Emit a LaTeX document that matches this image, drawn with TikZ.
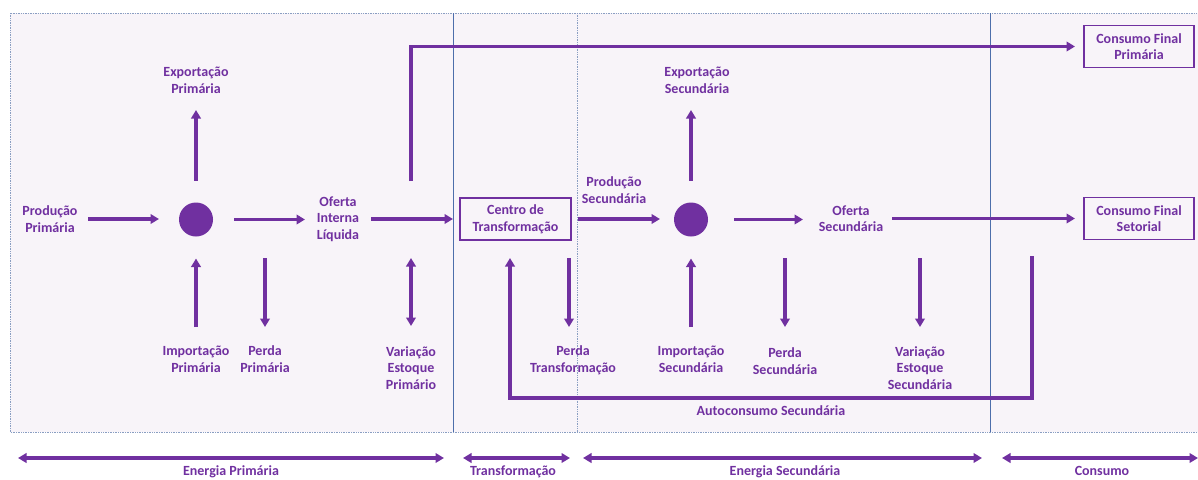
\documentclass[tikz,border=0pt]{standalone}
\usepackage{fontspec}
\setmainfont{Carlito}
\usetikzlibrary{arrows.meta}
\definecolor{pur}{HTML}{7030A0}
\definecolor{bgfill}{HTML}{F8F4F9}
\definecolor{dotline}{HTML}{8A9EC2}
\definecolor{sepblue}{HTML}{4D6EAB}
\tikzset{
  lbl/.style={text=pur, font=\fontsize{14}{16.6}\selectfont\bfseries, align=center,
              inner sep=0pt, outer sep=0pt},
  two/.style={lbl, minimum height=34pt},
  three/.style={lbl, minimum height=52pt},
  hub/.style={circle, fill=pur, minimum size=34pt, inner sep=0pt, outer sep=0pt},
  stagebox/.style={lbl, draw=pur, line width=1.4pt, fill=bgfill, minimum height=42pt},
  arr/.style={draw=pur, line width=3.1pt, -{Triangle[length=8.5pt,width=9.5pt]}},
  dblarr/.style={draw=pur, line width=3.1pt, {Triangle[length=8.5pt,width=9.5pt]}-{Triangle[length=8.5pt,width=9.5pt]}},
  frame/.style={draw=dotline, line width=0.7pt, densely dotted},
  sepline/.style={draw=sepblue, line width=0.8pt}
}
\begin{document}
\begin{tikzpicture}[x=1pt,y=-1pt]
\useasboundingbox (0,0) rectangle (1198,479);

% shaded working area with its dotted frame
\fill[bgfill] (10,13) rectangle (1205,432);
\draw[frame] (1205,13) -- (10,13) -- (10,432) -- (1205,432);
\draw[sepline] (453,13) -- (453,432);
\draw[frame] (577,13) -- (577,432);
\draw[sepline] (990,13) -- (990,432);

% primary energy chain
\node[two, text width=66pt] (prodP) at (50,219) {Produção\\Primária};
\node[hub] (c1) at (196,219.5) {};
\node[two, text width=78pt] (expP) at (196,80) {Exportação\\Primária};
\node[two, text width=78pt] (impP) at (196,359) {Importação\\Primária};
\node[two, text width=62pt] (perP) at (265,359) {Perda\\Primária};
\node[three, text width=56pt] (ofP) at (338,219) {Oferta\\Interna\\Líquida};
\node[three, text width=66pt] (varP) at (411,368) {Variação\\Estoque\\Primário};

% transformation
\node[stagebox, minimum width=111pt] (centro) at (515.5,219) {Centro de\\Transformação};
\node[two, text width=94pt] (perT) at (573,360) {Perda\\Transformação};

% secondary energy chain
\node[two, text width=78pt] (prodS) at (614,190) {Produção\\Secundária};
\node[hub] (c2) at (691,219.5) {};
\node[two, text width=78pt] (expS) at (697,80) {Exportação\\Secundária};
\node[two, text width=78pt] (impS) at (691,359) {Importação\\Secundária};
\node[two, text width=72pt] (perS) at (785,361) {Perda\\Secundária};
\node[two, text width=70pt] (ofS) at (851,218.5) {Oferta\\Secundária};
\node[three, text width=74pt] (varS) at (920,368) {Variação\\Estoque\\Secundária};
\node[lbl] (autoS) at (771,411) {Autoconsumo Secundária};

% final consumption
\node[stagebox, minimum width=110pt] (CFP) at (1139,46.5) {Consumo Final\\Primária};
\node[stagebox, minimum width=110pt] (CFS) at (1139,218.5) {Consumo Final\\Setorial};

% free ends of connectors
\coordinate (topstart) at (411,181);
\coordinate (perPtop) at (265,258);
\coordinate (varPtop) at (411,258);
\coordinate (perTtop) at (569,258);
\coordinate (perStop) at (785,258);
\coordinate (varStop) at (920,258);
\coordinate (loopA) at (1032,258);
\coordinate (loopC) at (1032,398);
\coordinate (loopB) at (510,258);

% main horizontal flow
\draw[arr, shorten <=5pt, shorten >=20pt] (prodP) -- (c1.west |- prodP);
\draw[arr, shorten <=21pt, shorten >=5pt] (c1) -- (c1 -| ofP.west);
\draw[arr, shorten <=5pt, shorten >=7pt] (ofP) -- (centro);
\draw[arr, shorten <=7pt, shorten >=14pt] (centro) -- (centro -| c2.west);
\draw[arr, shorten <=26pt, shorten >=13pt] (c2) -- (c2 -| ofS.west);
\draw[arr, shorten <=6pt, shorten >=9pt] (ofS) -- (CFS);
\draw[arr, shorten >=9pt] (topstart) |- (CFP);

% primary side flows
\draw[arr, shorten <=22pt, shorten >=13pt] (c1) -- (expP);
\draw[arr, shorten <=15pt, shorten >=22pt] (impP) -- (c1);
\draw[arr, shorten >=15pt] (perPtop) -- (perPtop |- perP.north);
\draw[dblarr, shorten >=16pt] (varPtop) -- (varP);

% transformation losses and own use
\draw[arr, shorten >=16pt] (perTtop) -- (perTtop |- perT.north);
\draw[arr, line cap=rect] (loopA) -- (loopC) -| (loopB);

% secondary side flows
\draw[arr, shorten <=22pt, shorten >=13pt] (c2) -- (c2 |- expS.south);
\draw[arr, shorten <=15pt, shorten >=22pt] (impS) -- (c2);
\draw[arr, shorten >=17pt] (perStop) -- (perS);
\draw[arr, shorten >=15pt] (varStop) -- (varS);

% stage spans along the bottom
\coordinate (s1a) at (18,458);   \coordinate (s1b) at (444,458);
\coordinate (s2a) at (463,458);  \coordinate (s2b) at (570,458);
\coordinate (s3a) at (583,458);  \coordinate (s3b) at (982,458);
\coordinate (s4a) at (1002,458); \coordinate (s4b) at (1198,458);
\draw[dblarr] (s1a) -- (s1b);
\draw[dblarr] (s2a) -- (s2b);
\draw[dblarr] (s3a) -- (s3b);
\draw[dblarr] (s4a) -- (s4b);
\node[lbl, anchor=base] (stage1) at (231,475.5) {Energia Primária};
\node[lbl, anchor=base] (stage2) at (513,475.5) {Transformação};
\node[lbl, anchor=base] (stage3) at (785,475.5) {Energia Secundária};
\node[lbl, anchor=base] (stage4) at (1102,475.5) {Consumo};
\end{tikzpicture}
\end{document}
